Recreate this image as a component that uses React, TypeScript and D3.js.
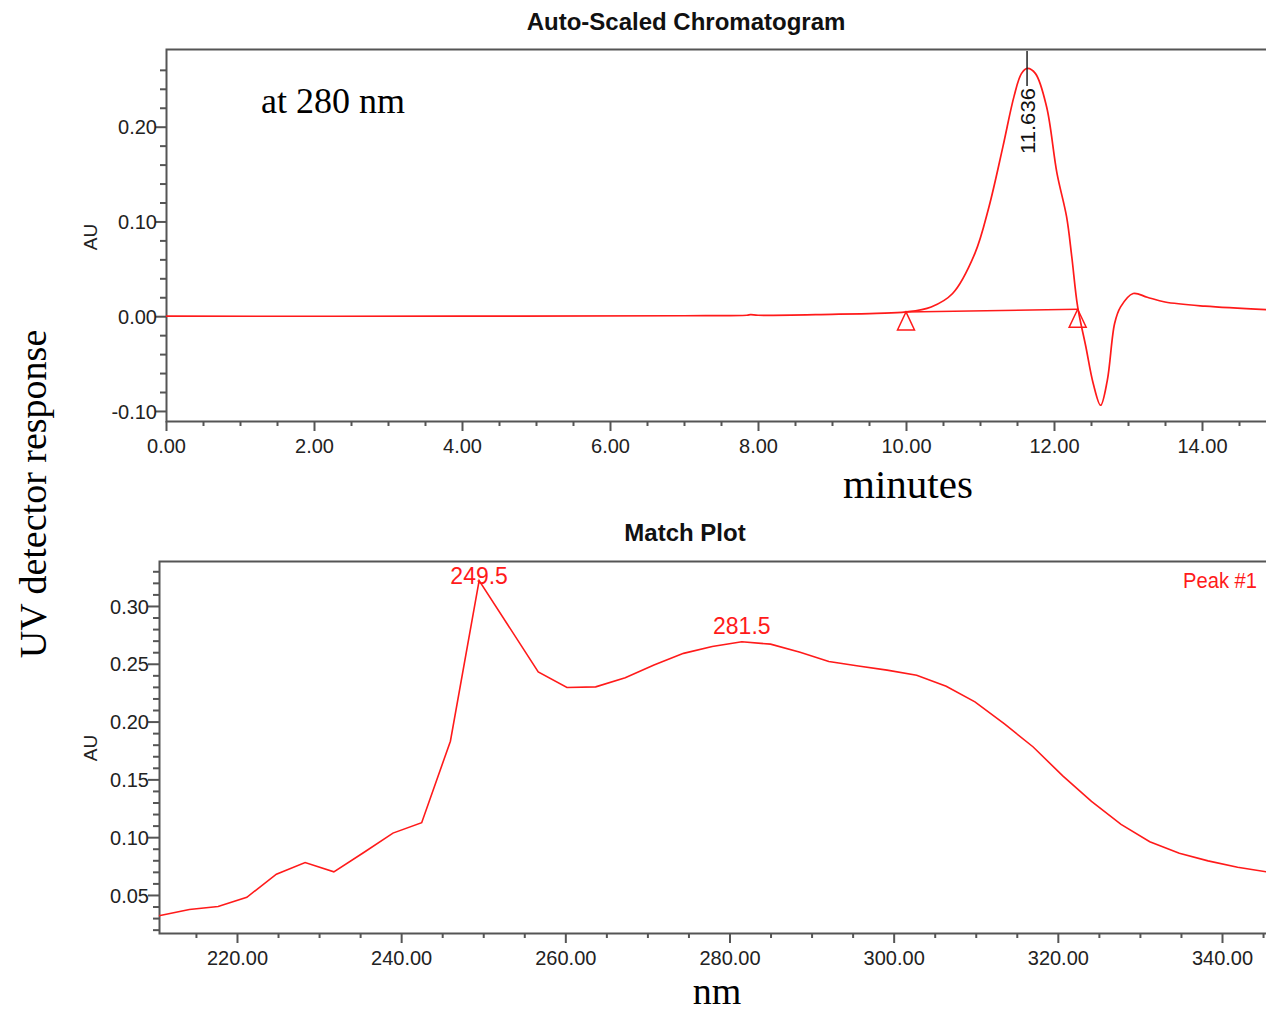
import * as d3 from "d3";
import { useEffect, useRef } from "react";

const W = 1266;
const H = 1013;

// chromatogram at 280 nm: time (min) and absorbance (AU)
const chromTime = [0, 4.0, 7.0, 7.85, 7.9, 8.0, 9.0, 9.6, 10.0, 10.34, 10.63, 10.93, 11.12, 11.31, 11.46, 11.56, 11.64, 11.75, 11.9, 12.04, 12.17, 12.24, 12.32, 12.43, 12.53, 12.63, 12.72, 12.82, 12.9, 13.07, 13.26, 13.5, 14.04, 14.9];
const chromAU = [0, 0, 0.0005, 0.001, 0.0016, 0.001, 0.002, 0.003, 0.0045, 0.0098, 0.024, 0.066, 0.115, 0.179, 0.232, 0.256, 0.2615, 0.256, 0.221, 0.151, 0.105, 0.063, 0.0098, -0.032, -0.071, -0.094, -0.068, -0.0074, 0.0098, 0.024, 0.02, 0.015, 0.0106, 0.0068];
const peakTime = 11.636;
const peakLabel = "11.636";
const integStart = [10.0, 0.0045];
const integEnd = [12.32, 0.0073];

// match plot spectrum: wavelength (nm) and absorbance (AU)
const wavelengths = [210.5, 214.2, 217.7, 221.2, 224.8, 228.3, 231.8, 235.4, 239.0, 242.5, 246.0, 249.5, 256.7, 260.2, 263.7, 267.3, 270.8, 274.4, 277.9, 281.5, 285.0, 288.6, 292.1, 295.7, 299.2, 302.8, 306.4, 309.9, 313.5, 317.0, 320.6, 324.1, 327.7, 331.2, 334.8, 338.3, 341.9, 345.4];
const spectrumAU = [0.032, 0.0375, 0.04, 0.048, 0.068, 0.078, 0.07, 0.0865, 0.1035, 0.1125, 0.183, 0.322, 0.243, 0.2295, 0.23, 0.238, 0.249, 0.259, 0.265, 0.269, 0.267, 0.26, 0.252, 0.248, 0.2445, 0.24, 0.2305, 0.217, 0.198, 0.178, 0.153, 0.131, 0.111, 0.096, 0.086, 0.0795, 0.074, 0.07];
const spectrumMaxima = [249.5, 281.5];

const chromMajor = [0, 2, 4, 6, 8, 10, 12, 14];
const chromYMajor = [-0.1, 0, 0.1, 0.2];
const specMajor = [220, 240, 260, 280, 300, 320, 340];
const specYMajor = [0.05, 0.1, 0.15, 0.2, 0.25, 0.3];

const SANS = "'Liberation Sans', Arial, sans-serif";
const SERIF = "'Liberation Serif', 'Times New Roman', serif";
const RED = "#ff1a1a";
const AXIS = "#555";
const TXT = "#222";

const fmt = (v: number) => v.toFixed(2);

export default function App() {
  const ref = useRef<SVGSVGElement>(null);

  useEffect(() => {
    const svg = d3.select(ref.current);
    svg.selectAll("*").remove();

    // ---------- top: chromatogram ----------
    const x1 = d3.scaleLinear().domain([0, 14.865]).range([166, W]);
    const y1 = d3.scaleLinear().domain([-0.1106, 0.282]).range([421, 49]);

    const g1 = svg.append("g");
    g1.append("text").attr("x", 686).attr("y", 30).attr("text-anchor", "middle")
      .attr("font-family", SANS).attr("font-weight", "bold").attr("font-size", 24).attr("fill", "#111")
      .text("Auto-Scaled Chromatogram");

    const minorX1 = d3.range(0, 14.9, 0.5).filter(v => v % 2 !== 0);
    const minorY1 = d3.range(-0.1, 0.27, 0.02).filter(v => !chromYMajor.some(m => Math.abs(m - v) < 1e-6));

    const ax1 = g1.append("g").attr("transform", "translate(0,421)")
      .call(d3.axisBottom(x1).tickValues(chromMajor).tickFormat(fmt).tickSize(10).tickSizeOuter(0));
    ax1.selectAll("text").attr("y", 32).attr("dy", null);
    g1.append("g").attr("transform", "translate(0,421)")
      .call(d3.axisBottom(x1).tickValues(minorX1).tickFormat(() => "").tickSize(5).tickSizeOuter(0));

    const ay1 = g1.append("g").attr("transform", "translate(166,0)")
      .call(d3.axisLeft(y1).tickValues(chromYMajor).tickFormat(fmt).tickSize(11).tickSizeOuter(0));
    ay1.selectAll("text").attr("x", -9).attr("dy", "0.36em");
    g1.append("g").attr("transform", "translate(166,0)")
      .call(d3.axisLeft(y1).tickValues(minorY1).tickFormat(() => "").tickSize(6).tickSizeOuter(0));

    // frame
    g1.append("path").attr("d", `M${W},49.5H166.5V421.5H${W}`).attr("fill", "none").attr("stroke", AXIS).attr("stroke-width", 2);

    g1.append("text").attr("transform", "translate(97,237) rotate(-90)").attr("text-anchor", "middle")
      .attr("font-family", SANS).attr("font-size", 19).attr("fill", TXT).text("AU");

    const chromData = chromTime.map((t, i) => [t, chromAU[i]] as [number, number]);
    const line1 = d3.line<[number, number]>().x(d => x1(d[0])).y(d => y1(d[1])).curve(d3.curveCatmullRom.alpha(0.5));
    g1.append("path").attr("d", line1(chromData)).attr("fill", "none").attr("stroke", RED).attr("stroke-width", 1.7);

    // integration baseline and markers
    g1.append("line").attr("x1", x1(integStart[0])).attr("y1", y1(integStart[1]))
      .attr("x2", x1(integEnd[0])).attr("y2", y1(integEnd[1])).attr("stroke", RED).attr("stroke-width", 1.5);
    [integStart, integEnd].forEach(p => {
      const px = x1(p[0]), py = y1(p[1]);
      g1.append("path").attr("d", `M${px},${py}L${px + 8.5},${py + 18}L${px - 8.5},${py + 18}Z`)
        .attr("fill", "none").attr("stroke", RED).attr("stroke-width", 1.5);
    });

    // peak retention label
    const px = x1(peakTime);
    g1.append("line").attr("x1", px).attr("x2", px).attr("y1", 51).attr("y2", 86).attr("stroke", "#222").attr("stroke-width", 1.5);
    g1.append("text").attr("transform", `translate(${px + 8},88) rotate(-90)`).attr("text-anchor", "end")
      .attr("font-family", SANS).attr("font-size", 21).attr("fill", "#111")
      .attr("textLength", 66).attr("lengthAdjust", "spacingAndGlyphs").text(peakLabel);

    g1.append("text").attr("x", 261).attr("y", 113).attr("font-family", SERIF).attr("font-size", 36).attr("fill", "#000").text("at 280 nm");
    g1.append("text").attr("x", 908).attr("y", 498).attr("text-anchor", "middle").attr("font-family", SERIF).attr("font-size", 41).attr("fill", "#000").text("minutes");

    // ---------- bottom: match plot ----------
    const x2 = d3.scaleLinear().domain([210.5, 345.36]).range([159, W]);
    const y2 = d3.scaleLinear().domain([0.0171, 0.3389]).range([933, 561]);

    const g2 = svg.append("g");
    g2.append("text").attr("x", 685).attr("y", 541).attr("text-anchor", "middle")
      .attr("font-family", SANS).attr("font-weight", "bold").attr("font-size", 24).attr("fill", "#111")
      .text("Match Plot");

    const minorX2 = d3.range(215, 346, 5).filter(v => v % 20 !== 0);
    const minorY2 = d3.range(0.02, 0.335, 0.01).filter(v => !specYMajor.some(m => Math.abs(m - v) < 1e-6));

    const ax2 = g2.append("g").attr("transform", "translate(0,933)")
      .call(d3.axisBottom(x2).tickValues(specMajor).tickFormat(fmt).tickSize(10).tickSizeOuter(0));
    ax2.selectAll("text").attr("y", 32).attr("dy", null);
    g2.append("g").attr("transform", "translate(0,933)")
      .call(d3.axisBottom(x2).tickValues(minorX2).tickFormat(() => "").tickSize(5).tickSizeOuter(0));

    const ay2 = g2.append("g").attr("transform", "translate(159,0)")
      .call(d3.axisLeft(y2).tickValues(specYMajor).tickFormat(fmt).tickSize(11).tickSizeOuter(0));
    ay2.selectAll("text").attr("x", -10).attr("dy", "0.36em");
    g2.append("g").attr("transform", "translate(159,0)")
      .call(d3.axisLeft(y2).tickValues(minorY2).tickFormat(() => "").tickSize(6).tickSizeOuter(0));

    g2.append("path").attr("d", `M${W},561.5H159.5V933.5H${W}`).attr("fill", "none").attr("stroke", AXIS).attr("stroke-width", 2);

    g2.append("text").attr("transform", "translate(97,748) rotate(-90)").attr("text-anchor", "middle")
      .attr("font-family", SANS).attr("font-size", 19).attr("fill", TXT).text("AU");

    const specData = wavelengths.map((w, i) => [w, spectrumAU[i]] as [number, number]);
    const line2 = d3.line<[number, number]>().x(d => x2(d[0])).y(d => y2(d[1]));
    g2.append("path").attr("d", line2(specData)).attr("fill", "none").attr("stroke", RED).attr("stroke-width", 1.6);

    spectrumMaxima.forEach(m => {
      const i = d3.minIndex(wavelengths, w => Math.abs(w - m));
      const ly = Math.max(y2(spectrumAU[i]) - 8, 584);
      g2.append("text").attr("x", x2(m)).attr("y", ly).attr("text-anchor", "middle")
        .attr("font-family", SANS).attr("font-size", 23).attr("fill", RED).text(m.toFixed(1));
    });

    g2.append("text").attr("x", 1257).attr("y", 588).attr("text-anchor", "end")
      .attr("font-family", SANS).attr("font-size", 22).attr("fill", RED)
      .attr("textLength", 74).attr("lengthAdjust", "spacingAndGlyphs").text("Peak #1");

    g2.append("text").attr("x", 717).attr("y", 1004).attr("text-anchor", "middle").attr("font-family", SERIF).attr("font-size", 38).attr("fill", "#000").text("nm");

    // shared y label
    svg.append("text").attr("transform", "translate(46,494) rotate(-90)").attr("text-anchor", "middle")
      .attr("font-family", SERIF).attr("font-size", 38).attr("fill", "#000").text("UV detector response");

    // axis styling
    svg.selectAll(".domain").remove();
    svg.selectAll(".tick line").attr("stroke", AXIS).attr("stroke-width", 2);
    svg.selectAll(".tick text").attr("font-family", SANS).attr("font-size", 20).attr("fill", TXT);

    return () => { svg.selectAll("*").remove(); };
  }, []);

  return (
    <svg ref={ref} width={W} height={H} style={{ position: "absolute", left: 0, top: 0, display: "block", background: "#fff" }} />
  );
}
